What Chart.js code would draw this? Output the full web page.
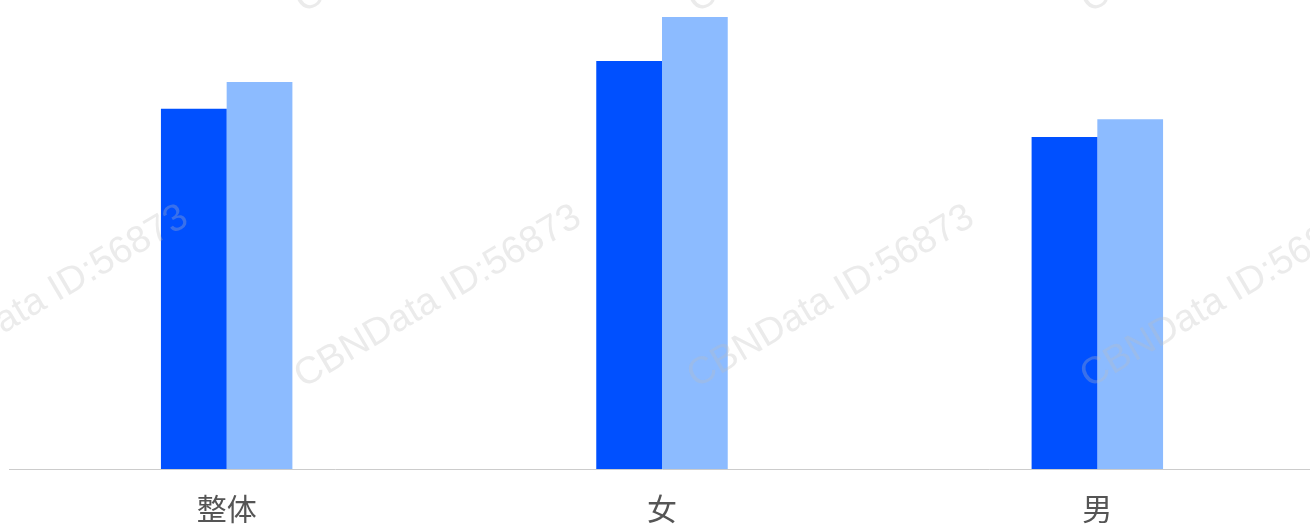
<!DOCTYPE html>
<html>
<head>
<meta charset="utf-8">
<script src="https://cdn.jsdelivr.net/npm/chart.js@4"></script>
<style>
  html, body { margin: 0; padding: 0; background: #fff; overflow: hidden; }
  #wrap { width: 1310px; height: 524px; overflow: hidden; }
</style>
</head>
<body>
<div id="wrap"><canvas id="barChart" width="1315" height="549"></canvas></div>
<script>
// Chart data
const categories = ['整体', '女', '男'];
const seriesDark = [76.8, 87.0, 70.8];
const seriesLight = [82.5, 96.4, 74.6];
const watermarkText = 'CBNData ID:56873';

// Faint rotated watermark drawn over the bars
const watermark = {
    id: 'watermark',
    afterDatasetsDraw(chart) {
        const c = chart.ctx;
        c.save();
        c.font = '38px "Liberation Sans", Arial, sans-serif';
        c.fillStyle = 'rgba(190, 190, 190, 0.3)';
        c.textAlign = 'center';
        c.textBaseline = 'middle';
        const rows = [-78, 297];
        const cols = [45, 438, 831, 1224];
        rows.forEach(y => {
            cols.forEach(x => {
                c.save();
                c.translate(x, y);
                c.rotate(-30.5 * Math.PI / 180);
                c.fillText(watermarkText, 0, 0);
                c.restore();
            });
        });
        c.restore();
    }
};

const ctx = document.getElementById('barChart').getContext('2d');
new Chart(ctx, {
    type: 'bar',
    data: {
        labels: categories,
        datasets: [
            { data: seriesDark, backgroundColor: '#0050ff', borderWidth: 0 },
            { data: seriesLight, backgroundColor: '#8cbbff', borderWidth: 0 }
        ]
    },
    options: {
        responsive: false,
        animation: false,
        layout: { padding: { left: 9, right: 0, top: 0, bottom: 0 } },
        datasets: {
            bar: { categoryPercentage: 0.302, barPercentage: 1.0 }
        },
        plugins: {
            legend: { display: false },
            tooltip: { enabled: false }
        },
        scales: {
            x: {
                grid: { display: false, drawTicks: false },
                border: { display: true, color: '#cccccc', width: 1 },
                ticks: {
                    color: '#555555',
                    padding: 22,
                    font: { size: 30, family: '"Noto Sans CJK SC", sans-serif' }
                }
            },
            y: {
                display: false,
                min: 0,
                max: 100
            }
        }
    },
    plugins: [watermark]
});
</script>
</body>
</html>
